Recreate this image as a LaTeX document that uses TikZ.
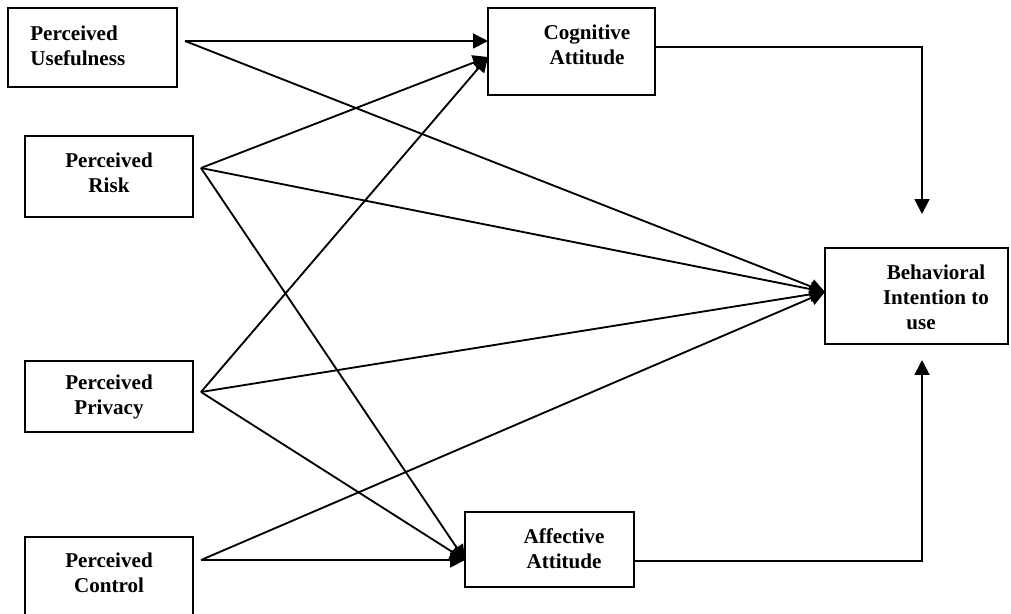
\documentclass[tikz,border=0pt]{standalone}
\usepackage{fontspec}
\setmainfont{Liberation Serif}
\usetikzlibrary{arrows.meta}
\begin{document}
\begin{tikzpicture}[x=0.02cm,y=-0.02cm,
  box/.style={draw, line width=0.9pt, inner sep=0pt},
  lbl/.style={font=\bfseries\fontsize{12}{14.2}\selectfont, align=center, inner sep=0pt},
  link/.style={line width=1.05pt, -{Triangle[length=8.5pt,width=8.5pt]}}]
\useasboundingbox (0,0) rectangle (1011,613);
\clip (0,0) rectangle (1011,613);
% boxes
\node[box, minimum width=3.38cm, minimum height=1.58cm] (pu) at (92.5,47.5){};
\node[box, minimum width=3.36cm, minimum height=1.62cm] (pr) at (109,176.5){};
\node[box, minimum width=3.36cm, minimum height=1.42cm] (pp) at (109,396.5){};
\node[box, minimum width=3.36cm, minimum height=2.26cm] (pc) at (109,593.5){};
\node[box, minimum width=3.34cm, minimum height=1.74cm] (ca) at (571.5,51.5){};
\node[box, minimum width=3.66cm, minimum height=1.92cm] (bi) at (916.5,296){};
\node[box, minimum width=3.38cm, minimum height=1.50cm] (aa) at (549.5,549.5){};
% labels
\node[lbl, anchor=west, align=left] (put) at (30,45.5){Perceived\\Usefulness};
\node[lbl] (prt) at (109,173){Perceived\\Risk};
\node[lbl] (ppt) at (109,397){Perceived\\Privacy};
\node[lbl] (pct) at (109,573){Perceived\\Control};
\node[lbl] (cat) at (587,44.5){Cognitive\\Attitude};
\node[lbl] (aat) at (564,549){Affective\\Attitude};
\node[lbl] (bit) at (936,297){Behavioral\\Intention to\\use\hspace*{17pt}};
% ends of the links
\coordinate (puo) at (185,41);
\coordinate (pro) at (201,168);
\coordinate (ppo) at (201,392);
\coordinate (pco) at (201,560);
\coordinate (cai1) at (488,41);
\coordinate (cai2) at (488,57);
\coordinate (bii) at (825,292);
\coordinate (aai) at (465,560);
\coordinate (cao) at (655,47);
\coordinate (aao) at (634,561);
\coordinate (bitop) at (922,214);
\coordinate (bibot) at (922,360);
\draw[link](puo) -- (cai1);
\draw[link](puo) -- (bii);
\draw[link](pro) -- (cai2);
\draw[link](pro) -- (bii);
\draw[link](pro) -- (aai);
\draw[link](ppo) -- (cai2);
\draw[link](ppo) -- (bii);
\draw[link](ppo) -- (aai);
\draw[link](pco) -- (bii);
\draw[link](pco) -- (aai);
\draw[link](cao) -| (bitop);
\draw[link](aao) -| (bibot);
\end{tikzpicture}
\end{document}
